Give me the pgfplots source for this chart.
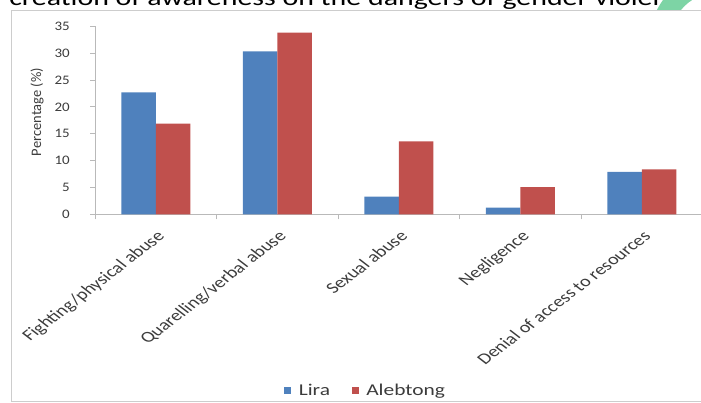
\documentclass[border=0pt]{standalone}
\usepackage{fontspec}
\setmainfont{Carlito}
\usepackage{pgfplots}
\pgfplotsset{compat=1.18}

\definecolor{liraBlue}{RGB}{79,129,189}
\definecolor{alebRed}{RGB}{192,80,77}
\definecolor{axisGray}{RGB}{185,185,185}
\definecolor{frameGray}{RGB}{205,205,205}
\definecolor{leafGreen}{RGB}{125,212,165}
\definecolor{labelText}{RGB}{60,60,60}

\begin{document}
\begin{tikzpicture}
\useasboundingbox (0pt,0pt) rectangle (701pt,403pt);
\clip (0pt,0pt) rectangle (701pt,403pt);

% running text of the page above the figure
\node[anchor=base west, inner sep=0pt, xscale=1.3,
      font=\fontsize{23}{23}\selectfont] at (9pt,397.5pt)
  {creation of awareness on the dangers of gender violence};

% green ornament in the top corner
\begin{scope}
  \clip (600pt,393.5pt) rectangle (701pt,403pt);
  \fill[leafGreen] (718pt,363pt) circle (68pt);
  \fill[white] (718pt,363pt) circle (47.5pt);
\end{scope}

% frame of the figure
\draw[frameGray, line width=0.8pt] (11pt,2pt) rectangle (730pt,393pt);

\begin{axis}[
  at={(95pt,188.5pt)}, anchor=south west,
  scale only axis, width=607.5pt, height=188.3pt,
  xmin=-0.5, xmax=4.5, ymin=0, ymax=35,
  axis x line*=bottom, axis y line*=left,
  axis line style={axisGray, line width=0.8pt, -},
  ybar=0pt, bar width=34.5pt,
  xtick={0,1,2,3,4},
  xticklabels={Fighting/physical abuse, Quarelling/verbal abuse,
               Sexual abuse, Negligence, Denial of access to resources},
  major x tick style={draw=none},
  minor xtick={-0.5,0.5,1.5,2.5,3.5,4.5},
  minor x tick style={axisGray, line width=0.8pt},
  ytick={0,5,...,35},
  y tick style={axisGray, line width=0.8pt},
  tick align=outside, major tick length=5pt, minor tick length=5pt,
  xticklabel style={yshift=-10pt, xscale=1.3, rotate=45, anchor=north east,
                    inner sep=0pt, text=labelText,
                    font=\fontsize{15.5}{15.5}\selectfont},
  yticklabel style={anchor=east, inner sep=0pt, xshift=-20pt, xscale=1.15,
                    text=labelText, font=\fontsize{13}{13}\selectfont},
  /pgf/number format/assume math mode=true,
  ylabel={Percentage (\%)},
  every axis y label/.style={at={(axis description cs:-0.0955,0.544)},
                             rotate=90, anchor=center, text=labelText,
                             font=\fontsize{14.5}{14.5}\selectfont},
  legend columns=2,
  legend style={at={(axis description cs:0.446,-0.935)}, anchor=center,
                draw=none, fill=none, inner sep=0pt,
                font=\fontsize{16.5}{16.5}\selectfont, text=labelText,
                nodes={xscale=1.3},
                /tikz/every odd column/.append style={column sep=5pt},
                /tikz/every even column/.append style={column sep=19pt}},
  legend image code/.code={\fill[#1, draw=none] (0pt,-3pt) rectangle (7pt,4pt);},
]
\addplot[fill=liraBlue, draw=none]
  coordinates {(0,22.7) (1,30.3) (2,3.3) (3,1.3) (4,7.9)};
\addplot[fill=alebRed, draw=none]
  coordinates {(0,16.9) (1,33.8) (2,13.6) (3,5.1) (4,8.4)};
\legend{Lira, Alebtong}
\end{axis}
\end{tikzpicture}
\end{document}
